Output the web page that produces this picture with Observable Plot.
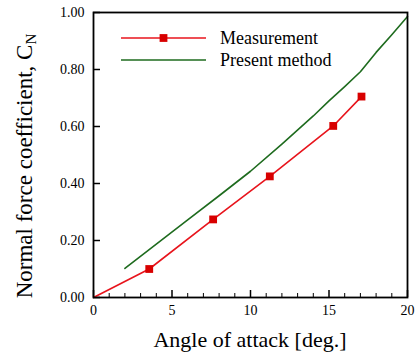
<!DOCTYPE html>
<html><head><meta charset="utf-8">
<script src="https://cdn.jsdelivr.net/npm/d3@7"></script>
<script src="https://cdn.jsdelivr.net/npm/@observablehq/plot@0.6"></script>
<style>
body{margin:0;background:#fff}
</style>
</head><body><div id="chart"></div>
<script>
// ---- data ----
const measAngle = [0, 3.55, 7.62, 11.23, 15.27, 17.07];
const measCN    = [0, 0.100, 0.274, 0.425, 0.602, 0.705];
const measMarked = [false, true, true, true, true, true];
const predAngle = [2, 4, 6, 8, 10, 12, 14, 15, 16, 17, 18, 19, 20];
const predCN    = [0.102, 0.187, 0.272, 0.357, 0.443, 0.538, 0.637, 0.690, 0.740, 0.792, 0.860, 0.922, 0.986];
const xTicks = [0, 5, 10, 15, 20];
const xMinorTicks = [1, 2, 3, 4, 6, 7, 8, 9, 11, 12, 13, 14, 16, 17, 18, 19];
const yTicks = [0, 0.2, 0.4, 0.6, 0.8, 1.0];
const yTickLabels = ["0.00", "0.20", "0.40", "0.60", "0.80", "1.00"];
const xTitle = "Angle of attack [deg.]";
const yTitle = "Normal force coefficient, C";
const yTitleSub = "N";
const seriesNames = ["Measurement", "Present method"];
const colors = {meas: "#e8141c", measMarker: "#d80000", pred: "#1e6b1e"};

// ---- build ----
const FONT = '"Liberation Serif","Times New Roman",serif';
const W = 420, H = 359, mL = 93, mR = 13, mT = 12, mB = 62;
const innerW = W - mL - mR, innerH = H - mT - mB;
const meas = measAngle.map((a, i) => ({a, c: measCN[i], m: measMarked[i]}));
const pred = predAngle.map((a, i) => ({a, c: predCN[i]}));

const plot = Plot.plot({
  width: W, height: H,
  marginLeft: mL, marginRight: mR, marginTop: mT, marginBottom: mB,
  x: {domain: [0, 20]},
  y: {domain: [0, 1]},
  style: {fontFamily: FONT, background: "white", color: "black"},
  marks: [
    Plot.axisX({ticks: xTicks, tickSize: 0, tickPadding: 8, fontSize: 14, label: null, tickFormat: d => String(d)}),
    Plot.axisY({ticks: yTicks, tickSize: 0, tickPadding: 9, fontSize: 14, label: null, tickFormat: d => yTickLabels[yTicks.indexOf(d)]}),
    Plot.tickX(xTicks, {x: d => d, insetTop: innerH - 7, stroke: "black", strokeWidth: 1.5}),
    Plot.tickX(xMinorTicks, {x: d => d, insetTop: innerH - 4, stroke: "black", strokeWidth: 1}),
    Plot.tickY(yTicks, {y: d => d, insetRight: innerW - 7, stroke: "black", strokeWidth: 1.5}),
    Plot.line(pred, {x: "a", y: "c", stroke: colors.pred, strokeWidth: 1.6}),
    Plot.line(meas, {x: "a", y: "c", stroke: colors.meas, strokeWidth: 1.6}),
    Plot.dot(meas.filter(d => d.m), {x: "a", y: "c", symbol: "square", r: 4.4, fill: colors.measMarker, stroke: "none"}),
    Plot.frame({stroke: "black", strokeWidth: 1.8})
  ]
});
document.getElementById("chart").appendChild(plot);

// ---- titles & legend ----
const svg = d3.select(plot);
svg.append("text")
  .attr("x", mL + innerW / 2).attr("y", 347)
  .attr("text-anchor", "middle").attr("font-size", 22).attr("fill", "black")
  .text(xTitle);
const yt = svg.append("text")
  .attr("transform", "translate(32,166) rotate(-90)")
  .attr("text-anchor", "middle").attr("font-size", 23).attr("fill", "black");
yt.append("tspan").text(yTitle);
yt.append("tspan").attr("font-size", 15).attr("dy", 4).text(yTitleSub);

const leg = svg.append("g");
const legY = [38, 60];
const legColors = [colors.meas, colors.pred];
seriesNames.forEach((name, i) => {
  leg.append("line").attr("x1", 121).attr("x2", 206).attr("y1", legY[i]).attr("y2", legY[i])
    .attr("stroke", legColors[i]).attr("stroke-width", 1.6);
  leg.append("text").attr("x", 220).attr("y", legY[i]).attr("dy", "0.35em")
    .attr("text-anchor", "start")
    .attr("font-size", 18).attr("fill", "black").text(name);
});
leg.append("rect").attr("x", 163.5 - 3.9).attr("y", legY[0] - 3.9).attr("width", 7.8).attr("height", 7.8)
  .attr("fill", colors.measMarker);

svg.selectAll("text").style("font-family", FONT);
</script>
</body></html>
